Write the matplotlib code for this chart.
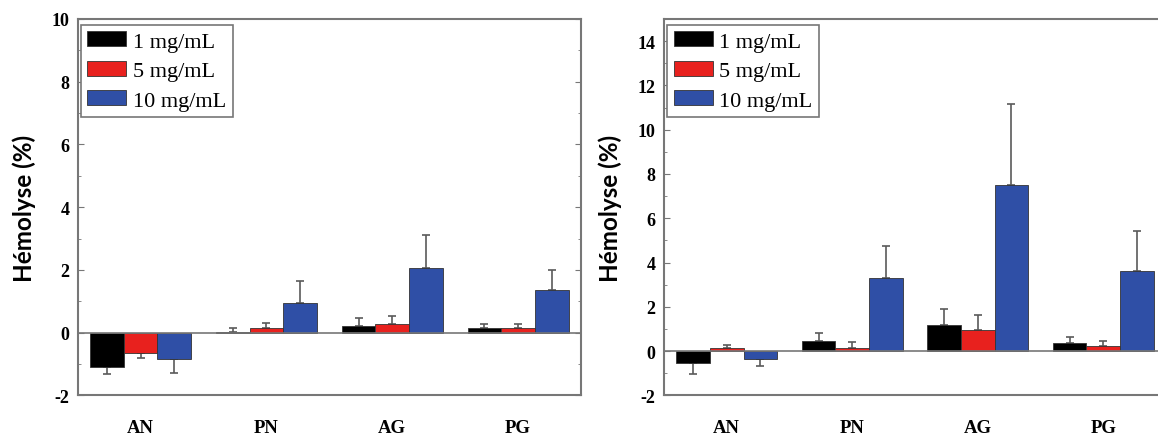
import numpy as np
import matplotlib
matplotlib.use("Agg")
import matplotlib.pyplot as plt
from matplotlib.ticker import MultipleLocator

plt.rcParams["axes.unicode_minus"] = False

categories = ["AN", "PN", "AG", "PG"]
series_labels = ["1 mg/mL", "5 mg/mL", "10 mg/mL"]

# Left panel
left_1 = [-1.10, 0.03, 0.21, 0.14]
left_1_err = [0.23, 0.11, 0.27, 0.15]
left_5 = [-0.66, 0.14, 0.27, 0.14]
left_5_err = [0.16, 0.18, 0.25, 0.15]
left_10 = [-0.85, 0.93, 2.07, 1.35]
left_10_err = [0.43, 0.72, 1.05, 0.65]

# Right panel
right_1 = [-0.54, 0.44, 1.19, 0.38]
right_1_err = [0.48, 0.39, 0.72, 0.28]
right_5 = [0.15, 0.15, 0.95, 0.24]
right_5_err = [0.14, 0.24, 0.69, 0.20]
right_10 = [-0.35, 3.30, 7.51, 3.60]
right_10_err = [0.34, 1.43, 3.66, 1.83]

colors = ["#000000", "#e8211e", "#2f4fa6"]
ylabel = "Hémolyse (%)"

fig = plt.figure(figsize=(11.58, 4.39), dpi=100)
ax_l = fig.add_axes([77.7/1158, 1-396.4/439, (581-77.7)/1158, (396.4-20)/439])
ax_r = fig.add_axes([664/1158, 1-396.4/439, 502/1158, (396.4-20)/439])

def draw(ax, series, errs, ylim, major):
    x = np.arange(1, len(categories)+1)
    w = 0.268
    offs = [-w, 0, w]
    for vals, err, c, off, lab in zip(series, errs, colors, offs, series_labels):
        vals = np.array(vals); err = np.array(err)
        lower = np.where(vals < 0, err, 0)
        upper = np.where(vals >= 0, err, 0)
        ax.errorbar(x+off, vals, yerr=[lower, upper], fmt="none", ecolor="#5a5a5a",
                    elinewidth=1.2, capsize=3, capthick=1.2, zorder=2)
        ax.bar(x+off, vals, width=w, color=c, edgecolor="#333333", linewidth=0.6,
               label=lab, zorder=3)
    ax.axhline(0, color="#777777", lw=1.2, zorder=4)
    ax.set_xlim(0.5, 4.5)
    ax.set_ylim(*ylim)
    ax.set_xticks(x)
    ax.set_xticklabels(categories, fontfamily="Liberation Serif", fontweight="bold", fontsize=13.5)
    ax.yaxis.set_major_locator(MultipleLocator(major))
    ax.yaxis.set_minor_locator(MultipleLocator(1))
    for lbl in ax.get_yticklabels():
        lbl.set_fontfamily("Liberation Serif"); lbl.set_fontweight("bold"); lbl.set_fontsize(13)
    ax.tick_params(axis="x", length=0, pad=17)
    ax.tick_params(axis="y", which="both", direction="in", right=True, color="#777777", pad=6)
    ax.tick_params(axis="y", which="major", length=4)
    ax.tick_params(axis="y", which="minor", length=2)
    for s in ax.spines.values():
        s.set_color("#777777"); s.set_linewidth(1.5)
    ax.set_ylabel(ylabel, fontfamily="Lato", fontweight="bold", fontsize=17.5, labelpad=11)
    leg = ax.legend(loc="upper left", bbox_to_anchor=(0.006, 0.985), borderaxespad=0,
                    prop={"family": "Liberation Serif", "size": 16},
                    handlelength=1.75, handleheight=0.65, handletextpad=0.3,
                    labelspacing=0.42, borderpad=0.3, fancybox=False, framealpha=1)
    leg.get_frame().set_edgecolor("#777777"); leg.get_frame().set_linewidth(1.2)

draw(ax_l, [left_1, left_5, left_10], [left_1_err, left_5_err, left_10_err], (-2, 10), 2)
draw(ax_r, [right_1, right_5, right_10], [right_1_err, right_5_err, right_10_err], (-2, 15), 2)

fig.savefig("out.png", dpi=100)
